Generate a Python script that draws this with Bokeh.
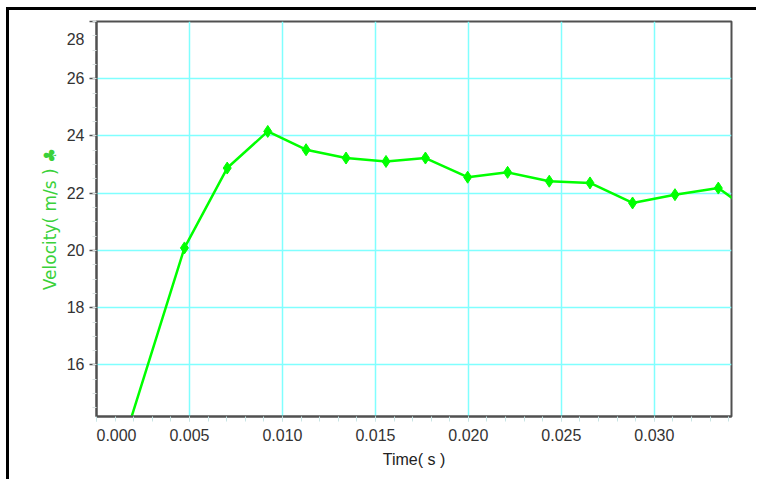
from bokeh.plotting import figure
from bokeh.models import Range1d, FixedTicker, NumeralTickFormatter
from bokeh.embed import file_html
from bokeh.resources import INLINE

# data
time_s = [0.0003, 0.00473, 0.00703, 0.00921, 0.01127, 0.01342, 0.01557, 0.01769,
          0.01996, 0.02211, 0.02435, 0.02654, 0.02883, 0.03111, 0.03344, 0.0356]
velocity = [10.9, 20.09, 22.88, 24.16, 23.52, 23.23, 23.11, 23.23,
            22.56, 22.73, 22.42, 22.36, 21.66, 21.95, 22.18, 21.18]
x_ticks = [0.0, 0.005, 0.010, 0.015, 0.020, 0.025, 0.030]
x_minor = [i * 0.001 for i in range(0, 35)]
y_ticks = [16, 18, 20, 22, 24, 26, 28]
y_minor = [14.5 + i * 0.5 for i in range(0, 28)]
x_label = "Time( s )"
y_label = "Velocity( m/s ) \u2663"

X0, X1 = 0.0, 0.03415
Y0, Y1 = 14.20, 28.0

p = figure(width=750, height=472, output_backend="svg", toolbar_location=None,
           x_range=Range1d(X0, X1), y_range=Range1d(Y0, Y1),
           min_border_left=87, min_border_right=28, min_border_top=11, min_border_bottom=66)
p.styles = {"border-top": "3px solid black", "border-left": "3px solid black",
            "margin-left": "6px", "margin-top": "7px"}

p.background_fill_color = "white"
p.border_fill_color = "white"
p.outline_line_color = "#505050"
p.outline_line_width = 2

# grid
p.xgrid.ticker = FixedTicker(ticks=x_ticks)
p.ygrid.ticker = FixedTicker(ticks=y_ticks)
for g in (p.xgrid, p.ygrid):
    g.grid_line_color = "#80ffff"
    g.grid_line_width = 1.5

# x axis
xa = p.xaxis[0]
xa.ticker = FixedTicker(ticks=x_ticks, minor_ticks=x_minor)
xa.formatter = NumeralTickFormatter(format="0.000")
xa.major_label_overrides = {0.0: "\u00a0" * 9 + "0.000"}
xa.axis_line_color = "#505050"
xa.axis_line_width = 2
xa.major_tick_line_color = "#c8e4e4"
xa.minor_tick_line_color = "#c8e4e4"
xa.major_tick_out = 5
xa.major_tick_in = 0
xa.minor_tick_out = 5
xa.minor_tick_in = 0
xa.major_label_standoff = 5
xa.major_label_text_font = "Liberation Sans"
xa.major_label_text_font_size = "16px"
xa.major_label_text_color = "#333333"
xa.axis_label = x_label
xa.axis_label_text_font = "Liberation Sans"
xa.axis_label_text_font_size = "16px"
xa.axis_label_text_font_style = "normal"
xa.axis_label_text_color = "#222222"
xa.axis_label_standoff = 4

# y axis
ya = p.yaxis[0]
ya.ticker = FixedTicker(ticks=y_ticks, minor_ticks=y_minor)
ya.major_label_overrides = {28: "\n28"}
ya.axis_line_color = "#505050"
ya.axis_line_width = 2
ya.major_tick_line_color = "#505050"
ya.major_tick_line_width = 1.5
ya.minor_tick_line_color = "#d8e0e0"
ya.major_tick_out = 7
ya.major_tick_in = 0
ya.minor_tick_out = 4
ya.minor_tick_in = 0
ya.major_label_standoff = 5
ya.major_label_text_font = "Liberation Sans"
ya.major_label_text_font_size = "16px"
ya.major_label_text_color = "#333333"
ya.axis_label = y_label
ya.axis_label_text_font = "DejaVu Sans"
ya.axis_label_text_font_size = "17px"
ya.axis_label_text_font_style = "normal"
ya.axis_label_text_color = "#3ad13a"
ya.axis_label_standoff = 4

p.line(time_s, velocity, line_color="#00ff00", line_width=2.5)
p.scatter(time_s, velocity, marker="diamond", size=12, fill_color="#00ff00", line_color="#00ff00")

open("out.html", "w").write(file_html(p, INLINE))
